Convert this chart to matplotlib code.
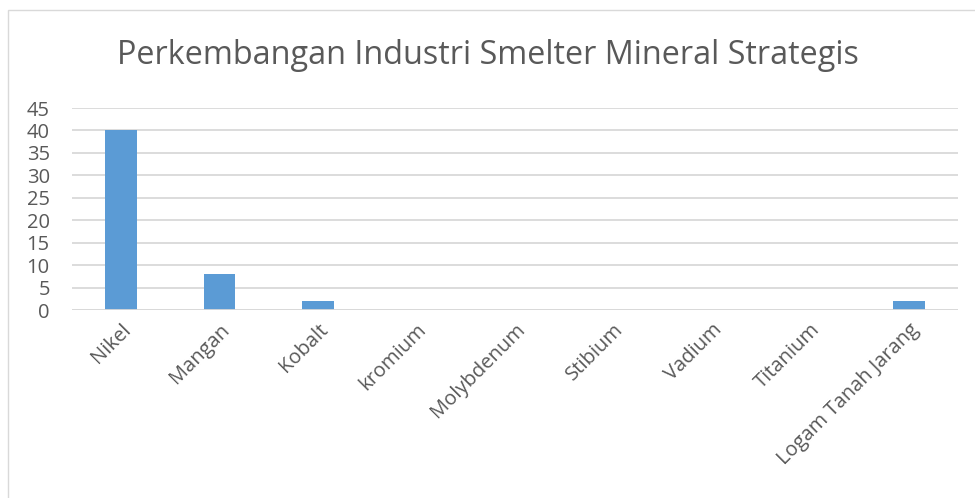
import matplotlib
matplotlib.use("Agg")
import matplotlib.pyplot as plt
from matplotlib.patches import Rectangle

categories = ["Nikel", "Mangan", "Kobalt", "kromium", "Molybdenum",
              "Stibium", "Vadium", "Titanium", "Logam Tanah Jarang"]
values = [40, 8, 2, 0, 0, 0, 0, 0, 2]
yticks = [0, 5, 10, 15, 20, 25, 30, 35, 40, 45]

grey = "#595959"
plt.rcParams["font.family"] = ["Open Sans", "DejaVu Sans"]

fig = plt.figure(figsize=(9.75, 4.98), dpi=100)
fig.patches.append(Rectangle((8 / 975, -0.1), 1.1, 1.1 - 10 / 498,
                             transform=fig.transFigure, fill=False,
                             edgecolor="#d9d9d9", linewidth=1))
ax = fig.add_axes([72 / 975, 1 - 310 / 498, 886 / 975, 202 / 498])

x = range(len(categories))
ax.bar(x, values, width=0.32, color="#5b9bd5", zorder=3)
ax.set_xlim(-0.5, len(categories) - 0.5)
ax.set_ylim(0, 45)
ax.set_yticks(yticks)
ax.set_xticks(list(x))
ax.set_xticklabels(categories, rotation=45, ha="right", rotation_mode="anchor")
ax.grid(axis="y", color="#d9d9d9", linewidth=1.3, zorder=0)
for s in ax.spines.values():
    s.set_visible(False)
ax.axhline(0, color="#d9d9d9", linewidth=1.3, zorder=4)
ax.tick_params(axis="both", length=0, colors=grey)
ax.tick_params(axis="y", pad=16, labelsize=14.5)
ax.tick_params(axis="x", pad=7, labelsize=14.5)

fig.text(0.5, 1 - 55 / 498, "Perkembangan Industri Smelter Mineral Strategis",
         ha="center", va="center", fontsize=23.3, color=grey)

fig.savefig("out.png", dpi=100)
